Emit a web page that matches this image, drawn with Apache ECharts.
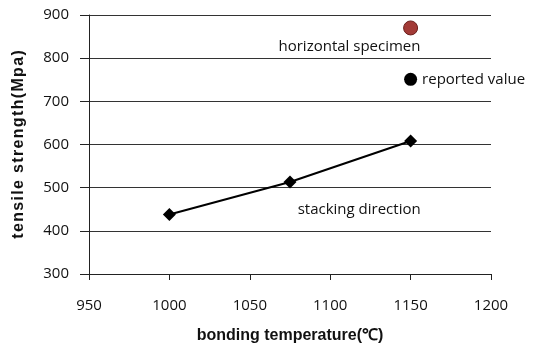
<!DOCTYPE html>
<html>
<head>
<meta charset="utf-8">
<script src="https://cdn.jsdelivr.net/npm/echarts@6/dist/echarts.min.js"></script>
<style>
  html, body { margin: 0; padding: 0; background: #fff; }
  #chart { width: 542px; height: 349px; }
</style>
</head>
<body>
<div id="chart"></div>
<script>
// stacking direction series
const temps = [1000, 1075, 1150];
const strength = [438, 513, 608];
// single points
const horizontalPoint = [1150, 870];
const reportedPoint = [1150, 751];
// free text notes, placed in data space
const notes = [
  {text: 'horizontal specimen', pos: [1112, 827]},
  {text: 'stacking direction', pos: [1118, 448]}
];

const txt = {fontFamily: 'Open Sans', fontSize: 15, color: '#111'};
// the y title in the picture is spaced out a little
const spaced = s => s.split('').join('\u200A');

let chart = echarts.init(document.getElementById('chart'));
chart.setOption({
  animation: false,
  backgroundColor: '#fff',
  grid: {left: 89, right: 51, top: 15, bottom: 74},
  xAxis: {
    type: 'value', min: 950, max: 1200, interval: 50,
    name: 'bonding temperature(℃)', nameLocation: 'middle', nameGap: 54,
    nameTextStyle: {fontFamily: 'Liberation Sans', fontWeight: 'bold', fontSize: 16, color: '#111'},
    axisLine: {show: true, lineStyle: {color: '#222', width: 1}},
    axisTick: {show: true, length: 6, lineStyle: {color: '#222'}},
    axisLabel: Object.assign({margin: 24, formatter: v => String(v)}, txt),
    splitLine: {show: false}
  },
  yAxis: {
    type: 'value', min: 300, max: 900, interval: 100,
    name: spaced('tensile strength(Mpa)'), nameLocation: 'middle', nameGap: 62,
    nameTextStyle: {fontFamily: 'Liberation Sans', fontWeight: 'bold', fontSize: 16, color: '#111'},
    axisLine: {show: true, lineStyle: {color: '#222', width: 1}},
    axisTick: {show: true, length: 9, lineStyle: {color: '#222'}},
    axisLabel: Object.assign({margin: 20}, txt),
    splitLine: {show: true, lineStyle: {color: '#333', width: 1}}
  },
  series: [
    {
      type: 'line',
      data: temps.map((t, i) => [t, strength[i]]),
      symbol: 'diamond', symbolSize: 13,
      lineStyle: {color: '#000', width: 2},
      itemStyle: {color: '#000'}
    },
    {
      type: 'scatter',
      data: [horizontalPoint],
      symbolSize: 14,
      itemStyle: {color: '#a23a36', borderColor: '#6b1f1c', borderWidth: 1, opacity: 1}
    },
    {
      type: 'scatter',
      data: [reportedPoint],
      symbolSize: 13,
      itemStyle: {color: '#000', opacity: 1},
      label: Object.assign({show: true, position: 'right', distance: 5, formatter: 'reported value'}, txt)
    },
    {
      type: 'scatter',
      data: notes.map(n => ({value: n.pos, name: n.text})),
      symbolSize: 0,
      silent: true,
      itemStyle: {opacity: 1},
      label: Object.assign({show: true, position: 'inside', formatter: '{b}'}, txt)
    }
  ]
});
</script>
</body>
</html>
